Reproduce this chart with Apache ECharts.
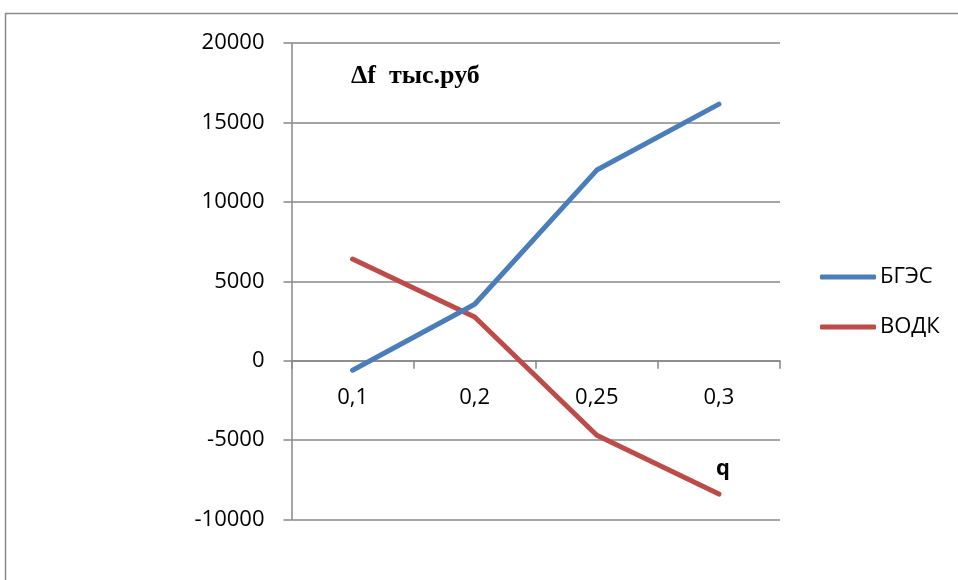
<!DOCTYPE html>
<html>
<head>
<meta charset="utf-8">
<script src="https://cdn.jsdelivr.net/npm/echarts@6/dist/echarts.min.js"></script>
<style>
  html, body { margin: 0; padding: 0; background: #fff; }
  #chart { width: 958px; height: 580px; }
</style>
</head>
<body>
<div id="chart"></div>
<script>
// Доля q и разница затрат Δf (тыс. руб) для двух вариантов
const categories = ['0,1', '0,2', '0,25', '0,3'];
const bgesValues = [-600, 3550, 12000, 16150];
const vodkValues = [6400, 2750, -4700, -8400];
const yTicks = { min: -10000, max: 20000, step: 5000 };

const gridColor = '#878787';
const textFont = '"Open Sans", Lato, "Liberation Sans", sans-serif';

// grid geometry, used to place the category axis on the zero line
const gridTop = 43;
const gridBottom = 60.5;
const chartHeight = 580;
const plotHeight = chartHeight - gridTop - gridBottom;
const zeroOffset = plotHeight * (0 - yTicks.min) / (yTicks.max - yTicks.min);

const chart = echarts.init(document.getElementById('chart'), null, { renderer: 'canvas' });

chart.setOption({
  animation: false,
  backgroundColor: '#ffffff',
  graphic: [
    {
      type: 'rect',
      shape: { x: 5.5, y: 13.5, width: 1200, height: 1200 },
      style: { fill: 'none', stroke: '#8a8a8a', lineWidth: 1.5 },
      silent: true,
      z: -1
    },
    {
      type: 'text',
      left: 351, top: 63,
      style: {
        text: 'Δf  тыс.руб',
        font: 'bold 26px "Liberation Serif", "DejaVu Serif", serif',
        fill: '#000'
      }
    },
    {
      type: 'text',
      left: 716, top: 458,
      style: {
        text: 'q',
        font: 'bold 22px ' + textFont,
        fill: '#000'
      }
    }
  ],
  grid: {
    left: 291.5,
    right: 178,
    top: gridTop,
    bottom: gridBottom,
    containLabel: false
  },
  legend: {
    orient: 'vertical',
    left: 820,
    top: 265,
    padding: 0,
    itemWidth: 56,
    itemHeight: 5,
    itemGap: 26,
    icon: 'roundRect',
    textStyle: { fontSize: 22, fontFamily: textFont, color: '#000', lineHeight: 24, padding: [0, 0, 0, -1] },
    data: ['БГЭС', 'ВОДК']
  },
  xAxis: {
    type: 'category',
    data: categories,
    boundaryGap: true,
    position: 'bottom',
    offset: -zeroOffset,
    axisLine: { onZero: false, lineStyle: { color: gridColor, width: 1.5 } },
    axisTick: { show: true, alignWithLabel: false, length: 8, lineStyle: { color: gridColor, width: 1.5 } },
    axisLabel: { margin: 26, fontSize: 22, fontFamily: textFont, color: '#000' },
    splitLine: { show: false }
  },
  yAxis: {
    type: 'value',
    min: yTicks.min,
    max: yTicks.max,
    interval: yTicks.step,
    axisLine: { show: true, lineStyle: { color: gridColor, width: 1.5 } },
    axisTick: { show: true, length: 8, lineStyle: { color: gridColor, width: 1.5 } },
    axisLabel: {
      margin: 27, fontSize: 22, fontFamily: textFont, color: '#000',
      formatter: (v) => String(v)
    },
    splitLine: { show: true, lineStyle: { color: gridColor, width: 1.5 } }
  },
  series: [
    {
      name: 'БГЭС',
      type: 'line',
      data: bgesValues,
      symbol: 'none',
      color: '#4a7ebb',
      lineStyle: { width: 5, color: '#4a7ebb', cap: 'round', join: 'round' },
      z: 3
    },
    {
      name: 'ВОДК',
      type: 'line',
      data: vodkValues,
      symbol: 'none',
      color: '#be4b48',
      lineStyle: { width: 5, color: '#be4b48', cap: 'round', join: 'round' },
      z: 2
    }
  ]
});
</script>
</body>
</html>
